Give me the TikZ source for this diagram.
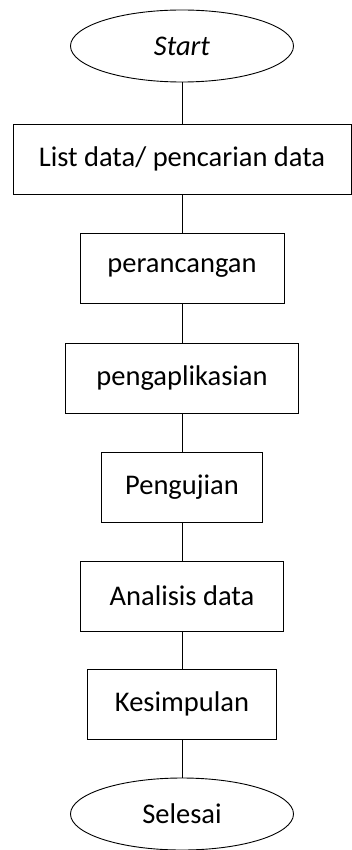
\documentclass[tikz,border=0pt]{standalone}
\usepackage{fontspec}
\setmainfont{Carlito}
\usepackage{tikz}
\usetikzlibrary{shapes.geometric}

\begin{document}
\begin{tikzpicture}[x=1pt, y=-1pt]
\tikzstyle{terminal} = [ellipse, minimum width=223pt, minimum height=72pt, inner sep=0pt, text centered, draw=black, line width=0.9pt, font=\fontsize{28.5}{32}\selectfont]
\tikzstyle{process} = [rectangle, minimum height=70pt, inner sep=0pt, text centered, draw=black, line width=0.9pt, font=\fontsize{28.5}{32}\selectfont]
\tikzstyle{line} = [line width=0.9pt]

\useasboundingbox (0,0) rectangle (352,850);

\node[terminal] (start) at (182,46) {\textit{Start}};
\node[process, minimum width=338pt] (listdata) at (182,159) {List data/ pencarian data};
\node[process, minimum width=204pt] (perancangan) at (182,268) {perancangan};
\node[process, minimum width=233pt] (pengaplikasian) at (182,378) {pengaplikasian};
\node[process, minimum width=161pt] (pengujian) at (182,487) {Pengujian};
\node[process, minimum width=203pt] (analisis) at (182,596) {Analisis data};
\node[process, minimum width=189pt] (kesimpulan) at (182,704) {Kesimpulan};
\node[terminal] (selesai) at (182,814) {Selesai};

\draw[line] (start) -- (listdata);
\draw[line] (listdata) -- (perancangan);
\draw[line] (perancangan) -- (pengaplikasian);
\draw[line] (pengaplikasian) -- (pengujian);
\draw[line] (pengujian) -- (analisis);
\draw[line] (analisis) -- (kesimpulan);
\draw[line] (kesimpulan) -- (selesai);
\end{tikzpicture}
\end{document}
